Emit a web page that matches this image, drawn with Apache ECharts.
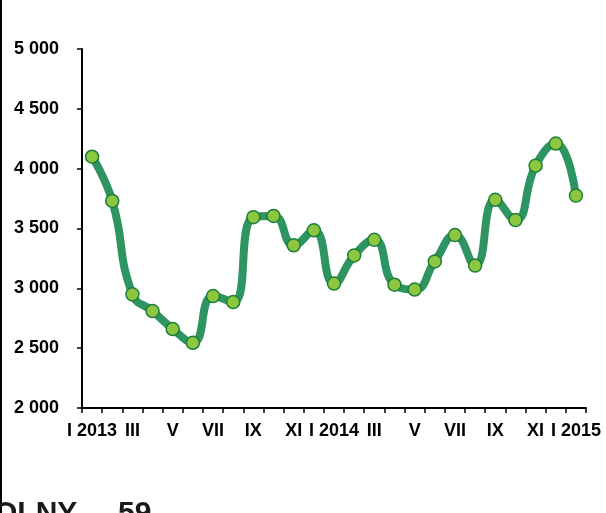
<!DOCTYPE html>
<html>
<head>
<meta charset="utf-8">
<script src="https://cdn.jsdelivr.net/npm/echarts@6/dist/echarts.min.js"></script>
<style>
html,body{margin:0;padding:0;background:#fff;}
#chart{width:606px;height:513px;}
</style>
</head>
<body>
<div id="chart"></div>
<script>
var categories = ['I 2013','II','III','IV','V','VI','VII','VIII','IX','X','XI','XII',
  'I 2014','II','III','IV','V','VI','VII','VIII','IX','X','XI','XII','I 2015'];
var values = [4100,3730,2950,2810,2660,2545,2935,2885,3595,3605,3360,3485,
  3040,3275,3405,3030,2990,3225,3445,3190,3740,3570,4025,4210,3775];
var yTicks = {min:2000, max:5000, interval:500};

var chart = echarts.init(document.getElementById('chart'), null, {renderer:'canvas'});
var font = 'Liberation Sans, Arial, sans-serif';
chart.setOption({
  animation:false,
  backgroundColor:'#fff',
  grid:{left:82, right:20, top:49, bottom:105, containLabel:false},
  xAxis:{
    type:'category',
    data:categories,
    boundaryGap:true,
    axisLine:{lineStyle:{color:'#000', width:2}},
    axisTick:{show:true, interval:0, length:5, lineStyle:{color:'#000', width:1.5}},
    axisLabel:{interval:1, margin:14, color:'#000', fontFamily:font, fontWeight:'bold', fontSize:18,
      formatter:function(v){return v;}},
    splitLine:{show:false}
  },
  yAxis:{
    type:'value',
    min:yTicks.min, max:yTicks.max, interval:yTicks.interval,
    axisLine:{show:true, lineStyle:{color:'#000', width:2}},
    axisTick:{show:true, length:5, lineStyle:{color:'#000', width:1.5}},
    axisLabel:{margin:23, color:'#000', fontFamily:font, fontWeight:'bold', fontSize:18,
      formatter:function(v){return String(v).replace(/\B(?=(\d{3})+(?!\d))/g,' ');}},
    splitLine:{show:false}
  },
  series:[{
    type:'line',
    data:values,
    smooth:0.5,
    lineStyle:{color:'#2e9462', width:8},
    symbol:'circle',
    symbolSize:13,
    itemStyle:{color:'#8dc63f', borderColor:'#1b7f3a', borderWidth:1.5},
    z:3
  }],
  graphic:[
    {type:'rect', left:0, top:0, shape:{width:2, height:513}, style:{fill:'#000'}},
    {type:'text', left:-6, top:499, style:{text:'OLNY', font:'bold 30px '+font, fill:'#1a1a1a'}},
    {type:'text', left:118, top:499, style:{text:'59', font:'bold 30px '+font, fill:'#1a1a1a'}}
  ]
});
</script>
</body>
</html>
